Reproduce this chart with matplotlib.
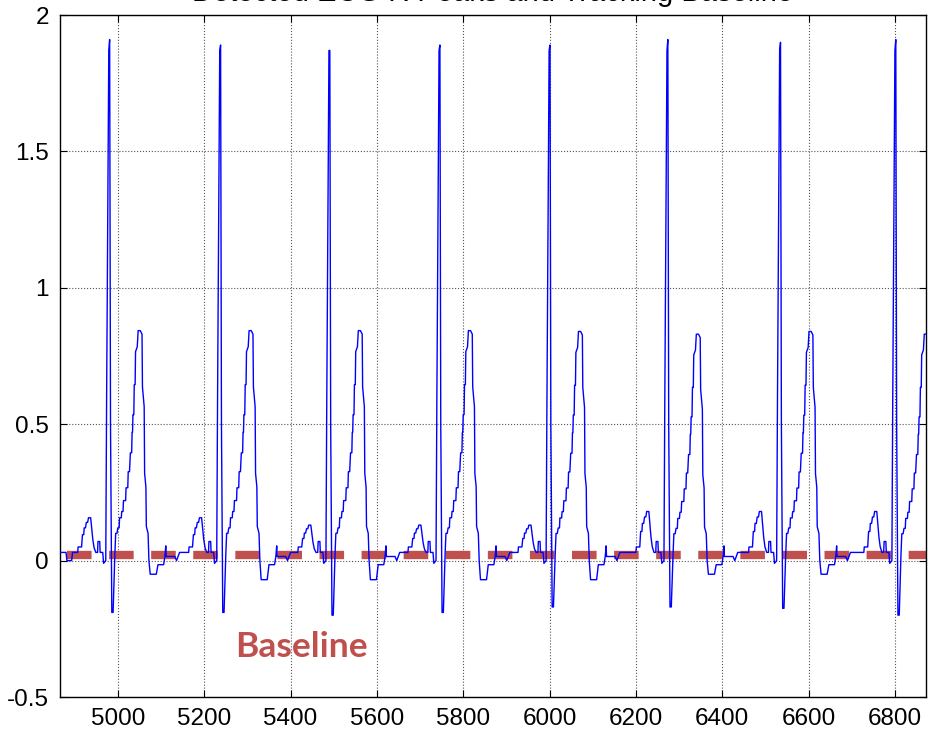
import matplotlib
matplotlib.use("Agg")
import matplotlib.pyplot as plt
import numpy as np

# R peak positions and per-beat amplitudes
r_pos = [4981, 5238, 5491, 5746, 6001, 6274, 6535, 6802]
r_amp = [1.91, 1.89, 1.87, 1.89, 1.89, 1.91, 1.90, 1.91]
s_amp = [-0.19, -0.19, -0.20, -0.19, -0.17, -0.17, -0.175, -0.20]
t_amp = [0.843, 0.843, 0.843, 0.843, 0.84, 0.83, 0.84, 0.83]
p_amp = [0.157, 0.157, 0.13, 0.13, 0.13, 0.18, 0.18, 0.18]
t_min = [-0.05, -0.07, -0.07, -0.07, -0.07, -0.05, -0.05, -0.05]

# one beat shape (offset from R peak, value, part of wave)
tmpl_off = [-79, -74, -73, -65, -63, -60, -59, -56, -54, -51, -49, -44, -42, -39, -36, -32,
            -28, -27, -23, -22, -16, -14, -9, -7, -2, 0, 2, 5, 8, 12,
            14, 17, 19, 22, 23, 27, 28, 31, 32, 37, 38, 42, 43, 46, 48, 51, 52, 53, 54, 56,
            57, 59, 60, 64, 66, 71, 75, 76, 80, 81, 84, 85, 89, 91,
            94, 108, 112, 125, 128, 130, 131, 151, 155, 162, 176]
tmpl_val = [0.03, 0.03, 0.05, 0.05, 0.095, 0.095, 0.12, 0.12, 0.14, 0.14, 0.157, 0.157, 0.125, 0.077, 0.047, 0.03,
            0.03, 0.07, 0.07, 0.03, 0.03, -0.01, 0.0, 0.6, 1.87, 1.91, 0.5, -0.19, -0.19, 0.02,
            0.10, 0.10, 0.12, 0.12, 0.157, 0.157, 0.18, 0.18, 0.22, 0.22, 0.267, 0.267, 0.326, 0.326, 0.395, 0.395, 0.47, 0.47, 0.535, 0.535,
            0.645, 0.645, 0.766, 0.784, 0.843, 0.843, 0.83, 0.637, 0.564, 0.32, 0.27, 0.125, 0.10, 0.0,
            -0.048, -0.048, -0.015, -0.015, 0.015, 0.054, 0.015, 0.015, 0.0, 0.03, 0.03]
tmpl_kind = ['b'] * 4 + ['p'] * 12 + ['b'] * 9 + ['r', 'b', 's', 's', 'b'] + \
            ['t'] * 34 + ['m', 'm'] + ['b'] * 9

lead_x = [4860, 4880, 4882, 4893, 4895]
lead_y = [0.03, 0.03, 0.0, 0.0, 0.03]
baseline_level = 0.02

# build the trace beat by beat
sig_x = list(lead_x)
sig_y = list(lead_y)
for i in range(len(r_pos)):
    for off, v, k in zip(tmpl_off, tmpl_val, tmpl_kind):
        if k == 'p':
            v = 0.03 + (v - 0.03) * (p_amp[i] - 0.03) / (0.157 - 0.03)
        elif k == 't':
            v = v * t_amp[i] / 0.843
        elif k == 'r':
            v = r_amp[i]
        elif k == 's':
            v = s_amp[i]
        elif k == 'm':
            v = t_min[i]
        sig_x.append(r_pos[i] + off)
        sig_y.append(v)

fig = plt.figure(figsize=(9.29, 7.37), dpi=100)
ax = fig.add_axes([60 / 929, 1 - 697 / 737, 866 / 929, 682 / 737])

ax.plot([4883, 6900], [baseline_level, baseline_level], color='#c0504d', lw=6.0,
        dashes=(2.95, 2.1), dash_capstyle='butt', zorder=2)
ax.plot(sig_x, sig_y, color='#0000ff', lw=1.0, zorder=3)

ax.text(5426, -0.315, 'Baseline', color='#c0504d', fontsize=25.5, fontweight='bold',
        family='Lato', ha='center', va='center')

ax.set_xlim(4866, 6872)
ax.set_ylim(-0.5, 2)
ax.set_xticks([5000, 5200, 5400, 5600, 5800, 6000, 6200, 6400, 6600, 6800])
ax.set_yticks([-0.5, 0, 0.5, 1, 1.5, 2])
ax.set_yticklabels(['-0.5', '0', '0.5', '1', '1.5', '2'])
ax.grid(True, color='#555555', linestyle=':', linewidth=0.8)
ax.tick_params(direction='in', top=True, right=True, length=5, width=0.8,
               labelsize=17.5, pad=8)
for lab in ax.get_xticklabels() + ax.get_yticklabels():
    lab.set_family('Liberation Sans')
for sp in ax.spines.values():
    sp.set_linewidth(1.0)

# title sits mostly above the top edge, as in the source picture
fig.text(0.53, 1 - 1 / 737, 'Detected ECG R Peaks and Tracking Baseline', ha='center',
         va='baseline', fontsize=21, family='Liberation Sans')

fig.savefig('out.png', dpi=100)
